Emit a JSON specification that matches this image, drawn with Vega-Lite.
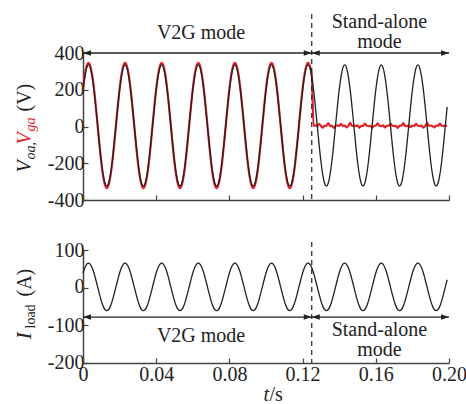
{
"$schema": "https://vega.github.io/schema/vega-lite/v6.json",
"padding": {"left": 12, "top": 12, "right": 5, "bottom": 4},
"spacing": 30,
"config": {
  "view": {"stroke": null},
  "font": "'Liberation Serif', 'Times New Roman', serif",
  "text": {"font": "'Liberation Serif', 'Times New Roman', serif", "fontSize": 20, "color": "#222"},
  "axis": {"grid": false, "labelFont": "'Liberation Serif', 'Times New Roman', serif", "labelFontSize": 20, "labelColor": "#222", "labelOverlap": false, "labelFlush": false, "domainColor": "#444", "domainWidth": 1.5, "tickColor": "#444", "tickSize": -5, "tickWidth": 1.2, "labelPadding": 4, "titleFont": "'Liberation Serif', 'Times New Roman', serif", "titleFontSize": 20, "titleColor": "#222", "titleFontWeight": "normal"}
},
"datasets": {
"w": [
{"t":0,"voa":199,"vga":205,"i":39},{"t":0.001,"voa":272,"vga":281,"i":53},{"t":0.002,"voa":319,"vga":329,"i":62},{"t":0.003,"voa":335,"vga":346,"i":65},{"t":0.004,"voa":319,"vga":329,"i":62},{"t":0.005,"voa":272,"vga":281,"i":53},{"t":0.006,"voa":199,"vga":205,"i":39},{"t":0.007,"voa":107,"vga":110,"i":21},{"t":0.008,"voa":5,"vga":5,"i":2},{"t":0.009,"voa":-97,"vga":-100,"i":-17},{"t":0.01,"voa":-189,"vga":-195,"i":-35},{"t":0.011,"voa":-262,"vga":-270,"i":-49},{"t":0.012,"voa":-309,"vga":-318,"i":-58},{"t":0.013,"voa":-325,"vga":-335,"i":-61},{"t":0.014,"voa":-309,"vga":-318,"i":-58},{"t":0.015,"voa":-262,"vga":-270,"i":-49},{"t":0.016,"voa":-189,"vga":-195,"i":-35},{"t":0.017,"voa":-97,"vga":-100,"i":-17},{"t":0.018,"voa":5,"vga":5,"i":2},{"t":0.019,"voa":107,"vga":110,"i":21},
{"t":0.02,"voa":199,"vga":205,"i":39},{"t":0.021,"voa":272,"vga":281,"i":53},{"t":0.022,"voa":319,"vga":329,"i":62},{"t":0.023,"voa":335,"vga":346,"i":65},{"t":0.024,"voa":319,"vga":329,"i":62},{"t":0.025,"voa":272,"vga":281,"i":53},{"t":0.026,"voa":199,"vga":205,"i":39},{"t":0.027,"voa":107,"vga":110,"i":21},{"t":0.028,"voa":5,"vga":5,"i":2},{"t":0.029,"voa":-97,"vga":-100,"i":-17},{"t":0.03,"voa":-189,"vga":-195,"i":-35},{"t":0.031,"voa":-262,"vga":-270,"i":-49},{"t":0.032,"voa":-309,"vga":-318,"i":-58},{"t":0.033,"voa":-325,"vga":-335,"i":-61},{"t":0.034,"voa":-309,"vga":-318,"i":-58},{"t":0.035,"voa":-262,"vga":-270,"i":-49},{"t":0.036,"voa":-189,"vga":-195,"i":-35},{"t":0.037,"voa":-97,"vga":-100,"i":-17},{"t":0.038,"voa":5,"vga":5,"i":2},{"t":0.039,"voa":107,"vga":110,"i":21},
{"t":0.04,"voa":199,"vga":205,"i":39},{"t":0.041,"voa":272,"vga":281,"i":53},{"t":0.042,"voa":319,"vga":329,"i":62},{"t":0.043,"voa":335,"vga":346,"i":65},{"t":0.044,"voa":319,"vga":329,"i":62},{"t":0.045,"voa":272,"vga":281,"i":53},{"t":0.046,"voa":199,"vga":205,"i":39},{"t":0.047,"voa":107,"vga":110,"i":21},{"t":0.048,"voa":5,"vga":5,"i":2},{"t":0.049,"voa":-97,"vga":-100,"i":-17},{"t":0.05,"voa":-189,"vga":-195,"i":-35},{"t":0.051,"voa":-262,"vga":-270,"i":-49},{"t":0.052,"voa":-309,"vga":-318,"i":-58},{"t":0.053,"voa":-325,"vga":-335,"i":-61},{"t":0.054,"voa":-309,"vga":-318,"i":-58},{"t":0.055,"voa":-262,"vga":-270,"i":-49},{"t":0.056,"voa":-189,"vga":-195,"i":-35},{"t":0.057,"voa":-97,"vga":-100,"i":-17},{"t":0.058,"voa":5,"vga":5,"i":2},{"t":0.059,"voa":107,"vga":110,"i":21},
{"t":0.06,"voa":199,"vga":205,"i":39},{"t":0.061,"voa":272,"vga":281,"i":53},{"t":0.062,"voa":319,"vga":329,"i":62},{"t":0.063,"voa":335,"vga":346,"i":65},{"t":0.064,"voa":319,"vga":329,"i":62},{"t":0.065,"voa":272,"vga":281,"i":53},{"t":0.066,"voa":199,"vga":205,"i":39},{"t":0.067,"voa":107,"vga":110,"i":21},{"t":0.068,"voa":5,"vga":5,"i":2},{"t":0.069,"voa":-97,"vga":-100,"i":-17},{"t":0.07,"voa":-189,"vga":-195,"i":-35},{"t":0.071,"voa":-262,"vga":-270,"i":-49},{"t":0.072,"voa":-309,"vga":-318,"i":-58},{"t":0.073,"voa":-325,"vga":-335,"i":-61},{"t":0.074,"voa":-309,"vga":-318,"i":-58},{"t":0.075,"voa":-262,"vga":-270,"i":-49},{"t":0.076,"voa":-189,"vga":-195,"i":-35},{"t":0.077,"voa":-97,"vga":-100,"i":-17},{"t":0.078,"voa":5,"vga":5,"i":2},{"t":0.079,"voa":107,"vga":110,"i":21},
{"t":0.08,"voa":199,"vga":205,"i":39},{"t":0.081,"voa":272,"vga":281,"i":53},{"t":0.082,"voa":319,"vga":329,"i":62},{"t":0.083,"voa":335,"vga":346,"i":65},{"t":0.084,"voa":319,"vga":329,"i":62},{"t":0.085,"voa":272,"vga":281,"i":53},{"t":0.086,"voa":199,"vga":205,"i":39},{"t":0.087,"voa":107,"vga":110,"i":21},{"t":0.088,"voa":5,"vga":5,"i":2},{"t":0.089,"voa":-97,"vga":-100,"i":-17},{"t":0.09,"voa":-189,"vga":-195,"i":-35},{"t":0.091,"voa":-262,"vga":-270,"i":-49},{"t":0.092,"voa":-309,"vga":-318,"i":-58},{"t":0.093,"voa":-325,"vga":-335,"i":-61},{"t":0.094,"voa":-309,"vga":-318,"i":-58},{"t":0.095,"voa":-262,"vga":-270,"i":-49},{"t":0.096,"voa":-189,"vga":-195,"i":-35},{"t":0.097,"voa":-97,"vga":-100,"i":-17},{"t":0.098,"voa":5,"vga":5,"i":2},{"t":0.099,"voa":107,"vga":110,"i":21},
{"t":0.1,"voa":199,"vga":205,"i":39},{"t":0.101,"voa":272,"vga":281,"i":53},{"t":0.102,"voa":319,"vga":329,"i":62},{"t":0.103,"voa":335,"vga":346,"i":65},{"t":0.104,"voa":319,"vga":329,"i":62},{"t":0.105,"voa":272,"vga":281,"i":53},{"t":0.106,"voa":199,"vga":205,"i":39},{"t":0.107,"voa":107,"vga":110,"i":21},{"t":0.108,"voa":5,"vga":5,"i":2},{"t":0.109,"voa":-97,"vga":-100,"i":-17},{"t":0.11,"voa":-189,"vga":-195,"i":-35},{"t":0.111,"voa":-262,"vga":-270,"i":-49},{"t":0.112,"voa":-309,"vga":-318,"i":-58},{"t":0.113,"voa":-325,"vga":-335,"i":-61},{"t":0.114,"voa":-309,"vga":-318,"i":-58},{"t":0.115,"voa":-262,"vga":-270,"i":-49},{"t":0.116,"voa":-189,"vga":-195,"i":-35},{"t":0.117,"voa":-97,"vga":-100,"i":-17},{"t":0.118,"voa":5,"vga":5,"i":2},{"t":0.119,"voa":107,"vga":110,"i":21},
{"t":0.12,"voa":199,"vga":205,"i":39},{"t":0.121,"voa":272,"vga":281,"i":53},{"t":0.122,"voa":319,"vga":329,"i":62},{"t":0.123,"voa":335,"vga":346,"i":65},{"t":0.124,"voa":319,"vga":329,"i":62},{"t":0.125,"voa":272,"vga":281,"i":53},{"t":0.126,"voa":199,"vga":3,"i":39},{"t":0.127,"voa":107,"vga":6,"i":21},{"t":0.128,"voa":5,"vga":2,"i":2},{"t":0.129,"voa":-97,"vga":14,"i":-17},{"t":0.13,"voa":-189,"vga":4,"i":-35},{"t":0.131,"voa":-262,"vga":-6,"i":-49},{"t":0.132,"voa":-309,"vga":5,"i":-58},{"t":0.133,"voa":-325,"vga":3,"i":-61},{"t":0.134,"voa":-309,"vga":18,"i":-58},{"t":0.135,"voa":-262,"vga":2,"i":-49},{"t":0.136,"voa":-189,"vga":5,"i":-35},{"t":0.137,"voa":-97,"vga":-8,"i":-17},{"t":0.138,"voa":5,"vga":4,"i":2},{"t":0.139,"voa":107,"vga":6,"i":21},
{"t":0.14,"voa":199,"vga":3,"i":39},{"t":0.141,"voa":272,"vga":15,"i":53},{"t":0.142,"voa":319,"vga":2,"i":62},{"t":0.143,"voa":335,"vga":5,"i":65},{"t":0.144,"voa":319,"vga":-5,"i":62},{"t":0.145,"voa":272,"vga":4,"i":53},{"t":0.146,"voa":199,"vga":20,"i":39},{"t":0.147,"voa":107,"vga":3,"i":21},{"t":0.148,"voa":5,"vga":5,"i":2},{"t":0.149,"voa":-97,"vga":2,"i":-17},{"t":0.15,"voa":-189,"vga":6,"i":-35},{"t":0.151,"voa":-262,"vga":-7,"i":-49},{"t":0.152,"voa":-309,"vga":4,"i":-58},{"t":0.153,"voa":-325,"vga":3,"i":-61},{"t":0.154,"voa":-309,"vga":16,"i":-58},{"t":0.155,"voa":-262,"vga":5,"i":-49},{"t":0.156,"voa":-189,"vga":2,"i":-35},{"t":0.157,"voa":-97,"vga":4,"i":-17},{"t":0.158,"voa":5,"vga":-6,"i":2},{"t":0.159,"voa":107,"vga":3,"i":21},
{"t":0.16,"voa":199,"vga":5,"i":39},{"t":0.161,"voa":272,"vga":17,"i":53},{"t":0.162,"voa":319,"vga":4,"i":62},{"t":0.163,"voa":335,"vga":2,"i":65},{"t":0.164,"voa":319,"vga":6,"i":62},{"t":0.165,"voa":272,"vga":-5,"i":53},{"t":0.166,"voa":199,"vga":3,"i":39},{"t":0.167,"voa":107,"vga":4,"i":21},{"t":0.168,"voa":5,"vga":14,"i":2},{"t":0.169,"voa":-97,"vga":5,"i":-17},{"t":0.17,"voa":-189,"vga":2,"i":-35},{"t":0.171,"voa":-262,"vga":3,"i":-49},{"t":0.172,"voa":-309,"vga":-8,"i":-58},{"t":0.173,"voa":-325,"vga":5,"i":-61},{"t":0.174,"voa":-309,"vga":4,"i":-58},{"t":0.175,"voa":-262,"vga":19,"i":-49},{"t":0.176,"voa":-189,"vga":3,"i":-35},{"t":0.177,"voa":-97,"vga":2,"i":-17},{"t":0.178,"voa":5,"vga":6,"i":2},{"t":0.179,"voa":107,"vga":-4,"i":21},
{"t":0.18,"voa":199,"vga":5,"i":39},{"t":0.181,"voa":272,"vga":3,"i":53},{"t":0.182,"voa":319,"vga":15,"i":62},{"t":0.183,"voa":335,"vga":4,"i":65},{"t":0.184,"voa":319,"vga":2,"i":62},{"t":0.185,"voa":272,"vga":5,"i":53},{"t":0.186,"voa":199,"vga":-6,"i":39},{"t":0.187,"voa":107,"vga":3,"i":21},{"t":0.188,"voa":5,"vga":18,"i":2},{"t":0.189,"voa":-97,"vga":4,"i":-17},{"t":0.19,"voa":-189,"vga":5,"i":-35},{"t":0.191,"voa":-262,"vga":2,"i":-49},{"t":0.192,"voa":-309,"vga":-5,"i":-58},{"t":0.193,"voa":-325,"vga":6,"i":-61},{"t":0.194,"voa":-309,"vga":3,"i":-58},{"t":0.195,"voa":-262,"vga":16,"i":-49},{"t":0.196,"voa":-189,"vga":4,"i":-35},{"t":0.197,"voa":-97,"vga":2,"i":-17},{"t":0.198,"voa":5,"vga":5,"i":2},{"t":0.199,"voa":107,"vga":3,"i":21}
],
"one": [{}]
},
"vconcat": [
{
  "width": 366, "height": 147,
  "resolve": {"scale": {"y": "independent"}},
  "layer": [
    {
      "layer": [
        {"data": {"name": "w"}, "mark": {"type": "line", "color": "#e3242b", "strokeWidth": 2.2, "interpolate": "monotone"},
         "encoding": {
           "x": {"field": "t", "type": "quantitative", "scale": {"domain": [0, 0.2], "nice": false}, "axis": {"values": [0, 0.04, 0.08, 0.12, 0.16, 0.2], "labels": false, "title": null}},
           "y": {"field": "vga", "type": "quantitative", "scale": {"domain": [-400, 400], "nice": false}, "axis": {"values": [-400, 0, 400], "labelOverlap": false, "labelExpr": "'' + datum.value", "title": "V", "titleFontStyle": "italic", "titleX": -53, "titleY": 119, "titleAngle": -90, "titleAlign": "left", "titleBaseline": "alphabetic"}}}},
        {"data": {"name": "w"}, "mark": {"type": "line", "color": "#222", "strokeWidth": 1.3, "interpolate": "monotone"},
         "encoding": {"x": {"field": "t", "type": "quantitative"}, "y": {"field": "voa", "type": "quantitative"}}},
        {"data": {"name": "one"}, "mark": {"type": "rule", "color": "#222", "strokeWidth": 1.2, "strokeDash": [5, 4]},
         "encoding": {"x": {"datum": 0.125}, "y": {"datum": 612}, "y2": {"datum": -400}}},
        {"data": {"name": "one"}, "mark": {"type": "rule", "color": "#222", "strokeWidth": 1.3},
         "encoding": {"x": {"datum": 0}, "x2": {"datum": 0.125}, "y": {"datum": 400}}},
        {"data": {"name": "one"}, "mark": {"type": "rule", "color": "#222", "strokeWidth": 1.3},
         "encoding": {"x": {"datum": 0.125}, "x2": {"datum": 0.2}, "y": {"datum": 400}}},
        {"data": {"name": "one"}, "mark": {"type": "point", "shape": "M0,0L2,-0.7L2,0.7Z", "filled": true, "size": 64, "color": "#222", "opacity": 1},
         "encoding": {"x": {"datum": 0}, "y": {"datum": 400}}},
        {"data": {"name": "one"}, "mark": {"type": "point", "shape": "M0,0L2,-0.7L2,0.7Z", "filled": true, "size": 64, "color": "#222", "opacity": 1},
         "encoding": {"x": {"datum": 0.125}, "y": {"datum": 400}}},
        {"data": {"name": "one"}, "mark": {"type": "point", "shape": "M0,0L-2,-0.7L-2,0.7Z", "filled": true, "size": 64, "color": "#222", "opacity": 1},
         "encoding": {"x": {"datum": 0.125}, "y": {"datum": 400}}},
        {"data": {"name": "one"}, "mark": {"type": "point", "shape": "M0,0L-2,-0.7L-2,0.7Z", "filled": true, "size": 64, "color": "#222", "opacity": 1},
         "encoding": {"x": {"datum": 0.2}, "y": {"datum": 400}}},
        {"data": {"name": "one"}, "mark": {"type": "text", "text": "V2G mode", "baseline": "alphabetic"},
         "encoding": {"x": {"datum": 0.0645}, "y": {"datum": 476}}},
        {"data": {"name": "one"}, "mark": {"type": "text", "text": "Stand-alone", "baseline": "alphabetic"},
         "encoding": {"x": {"datum": 0.162}, "y": {"datum": 536}}},
        {"data": {"name": "one"}, "mark": {"type": "text", "text": "mode", "baseline": "alphabetic"},
         "encoding": {"x": {"datum": 0.162}, "y": {"datum": 427}}}
      ]
    },
    {"data": {"name": "one"}, "mark": {"type": "rule", "opacity": 0},
     "encoding": {"y": {"datum": 0, "type": "quantitative", "scale": {"domain": [-400, 400], "nice": false}, "axis": {"orient": "left", "values": [-200, 200], "labelExpr": "'' + datum.value", "domain": false, "title": "oa,", "titleFontSize": 14, "titleFontStyle": "italic", "titleX": -49, "titleY": 106, "titleAngle": -90, "titleAlign": "left", "titleBaseline": "alphabetic"}}}},
    {"data": {"name": "one"}, "mark": {"type": "rule", "opacity": 0},
     "encoding": {"y": {"datum": 0, "type": "quantitative", "axis": {"orient": "left", "labels": false, "ticks": false, "domain": false, "title": "V", "titleColor": "#e3242b", "titleFontStyle": "italic", "titleX": -53, "titleY": 91, "titleAngle": -90, "titleAlign": "left", "titleBaseline": "alphabetic"}}}},
    {"data": {"name": "one"}, "mark": {"type": "rule", "opacity": 0},
     "encoding": {"y": {"datum": 0, "type": "quantitative", "axis": {"orient": "left", "labels": false, "ticks": false, "domain": false, "title": "ga", "titleColor": "#e3242b", "titleFontSize": 14, "titleFontStyle": "italic", "titleX": -49, "titleY": 78, "titleAngle": -90, "titleAlign": "left", "titleBaseline": "alphabetic"}}}},
    {"data": {"name": "one"}, "mark": {"type": "rule", "opacity": 0},
     "encoding": {"y": {"datum": 0, "type": "quantitative", "axis": {"orient": "left", "labels": false, "ticks": false, "domain": false, "title": "(V)", "titleX": -53, "titleY": 58, "titleAngle": -90, "titleAlign": "left", "titleBaseline": "alphabetic"}}}}
  ]
},
{
  "width": 366, "height": 113,
  "resolve": {"scale": {"y": "independent", "x": "independent"}},
  "layer": [
    {
      "layer": [
        {"data": {"name": "w"}, "mark": {"type": "line", "color": "#222", "strokeWidth": 1.3, "interpolate": "monotone"},
         "encoding": {
           "x": {"field": "t", "type": "quantitative", "scale": {"domain": [0, 0.2], "nice": false}, "axis": {"values": [0, 0.04, 0.08, 0.12, 0.16, 0.2], "labelPadding": 6, "labelExpr": "datum.value == 0 ? '0' : format(datum.value, '.2f')", "title": "t", "titleFontStyle": "italic", "titleX": 180, "titleY": 37, "titleAlign": "left", "titleBaseline": "alphabetic"}},
           "y": {"field": "i", "type": "quantitative", "scale": {"domain": [-200, 100], "nice": false}, "axis": {"values": [-200, 0], "labelOverlap": false, "labelOffset": -1, "labelExpr": "'' + datum.value", "title": "I", "titleFontStyle": "italic", "titleFontSize": 22, "titleX": -53, "titleY": 89, "titleAngle": -90, "titleAlign": "left", "titleBaseline": "alphabetic"}}}},
        {"data": {"name": "one"}, "mark": {"type": "rule", "color": "#222", "strokeWidth": 1.2, "strokeDash": [5, 4]},
         "encoding": {"x": {"datum": 0.125}, "y": {"datum": 121}, "y2": {"datum": -200}}},
        {"data": {"name": "one"}, "mark": {"type": "rule", "color": "#222", "strokeWidth": 1.3},
         "encoding": {"x": {"datum": 0}, "x2": {"datum": 0.125}, "y": {"datum": -78}}},
        {"data": {"name": "one"}, "mark": {"type": "rule", "color": "#222", "strokeWidth": 1.3},
         "encoding": {"x": {"datum": 0.125}, "x2": {"datum": 0.2}, "y": {"datum": -78}}},
        {"data": {"name": "one"}, "mark": {"type": "point", "shape": "M0,0L2,-0.7L2,0.7Z", "filled": true, "size": 64, "color": "#222", "opacity": 1},
         "encoding": {"x": {"datum": 0}, "y": {"datum": -78}}},
        {"data": {"name": "one"}, "mark": {"type": "point", "shape": "M0,0L2,-0.7L2,0.7Z", "filled": true, "size": 64, "color": "#222", "opacity": 1},
         "encoding": {"x": {"datum": 0.125}, "y": {"datum": -78}}},
        {"data": {"name": "one"}, "mark": {"type": "point", "shape": "M0,0L-2,-0.7L-2,0.7Z", "filled": true, "size": 64, "color": "#222", "opacity": 1},
         "encoding": {"x": {"datum": 0.125}, "y": {"datum": -78}}},
        {"data": {"name": "one"}, "mark": {"type": "point", "shape": "M0,0L-2,-0.7L-2,0.7Z", "filled": true, "size": 64, "color": "#222", "opacity": 1},
         "encoding": {"x": {"datum": 0.2}, "y": {"datum": -78}}},
        {"data": {"name": "one"}, "mark": {"type": "text", "text": "V2G mode", "baseline": "alphabetic"},
         "encoding": {"x": {"datum": 0.0645}, "y": {"datum": -144}}},
        {"data": {"name": "one"}, "mark": {"type": "text", "text": "Stand-alone", "baseline": "alphabetic"},
         "encoding": {"x": {"datum": 0.162}, "y": {"datum": -128}}},
        {"data": {"name": "one"}, "mark": {"type": "text", "text": "mode", "baseline": "alphabetic"},
         "encoding": {"x": {"datum": 0.162}, "y": {"datum": -181}}}
      ]
    },
    {"data": {"name": "one"}, "mark": {"type": "rule", "opacity": 0},
     "encoding": {"y": {"datum": 0, "type": "quantitative", "scale": {"domain": [-200, 100], "nice": false}, "axis": {"orient": "left", "values": [-100, 100], "labelExpr": "'' + datum.value", "domain": false, "title": "load", "titleFontSize": 14, "titleX": -49, "titleY": 78, "titleAngle": -90, "titleAlign": "left", "titleBaseline": "alphabetic"}}}},
    {"data": {"name": "one"}, "mark": {"type": "rule", "opacity": 0},
     "encoding": {"y": {"datum": 0, "type": "quantitative", "axis": {"orient": "left", "labels": false, "ticks": false, "domain": false, "title": "(A)", "titleX": -53, "titleY": 46, "titleAngle": -90, "titleAlign": "left", "titleBaseline": "alphabetic"}}}},
    {"data": {"name": "one"}, "mark": {"type": "rule", "opacity": 0},
     "encoding": {"x": {"datum": 0, "type": "quantitative", "axis": {"orient": "bottom", "labels": false, "ticks": false, "domain": false, "title": "/s", "titleX": 186, "titleY": 37, "titleAlign": "left", "titleBaseline": "alphabetic"}}}}
  ]
}
]
}
